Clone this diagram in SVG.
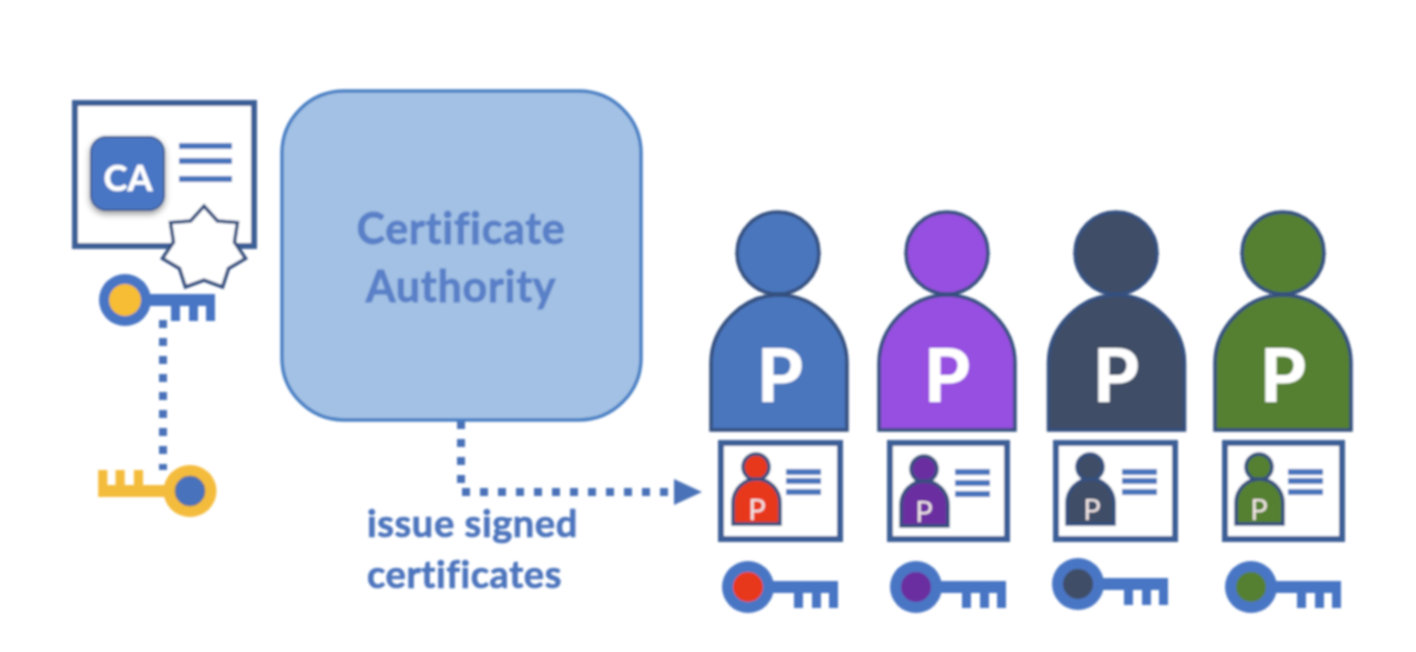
<svg xmlns="http://www.w3.org/2000/svg" width="1416" height="652" viewBox="0 0 1416 652">
<style>
text{font-family:Lato,"Open Sans","Liberation Sans",sans-serif;font-weight:700}
.card{fill:#fff;stroke:#3d5e97;stroke-width:6}
.ln{fill:#4a76bd}
.big{stroke:#34507f;stroke-width:3.500}
.mini{stroke:#34507f;stroke-width:3.500}
.bp{font-size:74px;font-weight:900;fill:#fff;text-anchor:middle}
.mp{font-size:29px;font-weight:400;fill:#f2e6e6;text-anchor:middle}
.lbl{font-size:38px;fill:#4d75bd;stroke:#4d75bd;stroke-width:.7;letter-spacing:.6px}
.ttl{font-size:43px;fill:#5a80c8;stroke:#5a80c8;stroke-width:.8;letter-spacing:.7px;text-anchor:middle}
.dot{fill:none;stroke:#4a72b8;stroke-width:8;stroke-dasharray:8 10}
</style>
<defs>
<filter id="soft" x="0" y="0" width="1416" height="652" filterUnits="userSpaceOnUse"><feGaussianBlur stdDeviation="1.1"/></filter>
<filter id="shadow" x="-20%" y="-20%" width="140%" height="150%"><feDropShadow dx="0" dy="3" stdDeviation="3" flood-color="#000" flood-opacity="0.4"/></filter>
<marker id="arrow" markerUnits="userSpaceOnUse" markerWidth="30" markerHeight="28" refX="0" refY="13" orient="auto"><path d="M1 0L29 13L1 26Z" fill="#4a72b8"/></marker>
<g id="key"><circle r="26"/><path d="M20-6H90V21H81V6H73V21H64V6H55V21H46V6H20Z"/></g>
<path id="bigbody" d="M0 135V68C0 32 32 0 68 0C104 0 136 32 136 68V135Z"/>
<path id="minibody" d="M0 45V24C0 10 11 0 23.500 0C36 0 47 10 47 24V45Z"/>
</defs>
<rect width="1416" height="652" fill="#fff"/>
<g filter="url(#soft)">
<g id="connectors">
<path class="dot" d="M163 320V470"/>
<path class="dot" d="M461 421V492H673" marker-end="url(#arrow)"/>
</g>
<g id="ca-certificate">
<rect class="card" x="75" y="103" width="179" height="143"/>
<rect x="91" y="137" width="73" height="73" rx="15" fill="#4a76c4" stroke="#3d5e97" stroke-width="2" filter="url(#shadow)"/>
<text x="128" y="191" font-size="36" font-weight="900" fill="#fff" stroke="#fff" stroke-width=".6" text-anchor="middle">CA</text>
<path class="ln" d="M179 143h53v6h-53zM179 158h53v6h-53zM179 176h53v6h-53z"/>
<path d="M204 206L217.500 221L237.500 222.500L234.500 242L245.500 258.500L228.500 268.500L222.500 287L204 280L185.500 287L179.500 268.500L162.500 258.500L173.500 242L170.500 222.500L190.500 221Z" fill="#fff" stroke="#34507f" stroke-width="3.500"/>
</g>
<g id="ca-private-key">
<use href="#key" x="125" y="300" fill="#4a76c4"/>
<circle cx="125" cy="300" r="16" fill="#f6bd36"/>
</g>
<g id="ca-public-key">
<use href="#key" transform="translate(190 491) scale(-1.020 -1)" fill="#f4bc3c"/>
<circle cx="190" cy="491" r="15" fill="#4a72bd" stroke="#7a7a60" stroke-width="1"/>
</g>
<g id="certificate-authority">
<rect x="282" y="91" width="359" height="329" rx="62" fill="#a3c1e4" stroke="#4a80c4" stroke-width="3.500"/>
<text class="ttl" x="461" y="244">Certificate</text>
<text class="ttl" x="461" y="302">Authority</text>
</g>
<g id="label-issue">
<text class="lbl" x="367" y="537">issue signed</text>
<text class="lbl" x="367" y="588">certificates</text>
</g>
<g id="person-1">
<circle class="big" cx="778" cy="253" r="41" fill="#4a76bd"/>
<use class="big" href="#bigbody" x="711" y="295" fill="#4a76bd"/>
<text class="bp" x="780" y="402">P</text>
<rect class="card" x="721" y="443" width="119" height="96"/>
<circle class="mini" cx="756" cy="467" r="13" fill="#e8391f"/>
<use class="mini" href="#minibody" x="733" y="479" fill="#e8391f"/>
<text class="mp" x="757" y="520">P</text>
<path class="ln" d="M786 469h35v6h-35zM786 478h35v6h-35zM786 489h35v6h-35z"/>
<use href="#key" x="748" y="587" fill="#4a76c4"/>
<circle cx="748" cy="587" r="15" fill="#e8391f"/>
</g>
<g id="person-2">
<circle class="big" cx="947" cy="253" r="41" fill="#964fe0"/>
<use class="big" href="#bigbody" x="879" y="295" fill="#964fe0"/>
<text class="bp" x="947" y="402">P</text>
<rect class="card" x="890" y="443" width="117" height="96"/>
<circle class="mini" cx="924" cy="469" r="13" fill="#6a2fa0"/>
<use class="mini" href="#minibody" x="901" y="481" fill="#6a2fa0"/>
<text class="mp" x="924" y="522">P</text>
<path class="ln" d="M955 469h35v6h-35zM955 480h35v6h-35zM955 491h35v6h-35z"/>
<use href="#key" x="916" y="587" fill="#4a76c4"/>
<circle cx="916" cy="587" r="15" fill="#6a2fa0"/>
</g>
<g id="person-3">
<circle class="big" cx="1116" cy="253" r="41" fill="#3f4e66"/>
<use class="big" href="#bigbody" x="1048.500" y="295" fill="#3f4e66"/>
<text class="bp" x="1116" y="402">P</text>
<rect class="card" x="1056" y="443" width="119" height="96"/>
<circle class="mini" cx="1090" cy="467" r="13" fill="#3f4e66"/>
<use class="mini" href="#minibody" x="1067" y="479" fill="#3f4e66"/>
<text class="mp" x="1092" y="520">P</text>
<path class="ln" d="M1122 469h35v6h-35zM1122 478h35v6h-35zM1122 489h35v6h-35z"/>
<use href="#key" x="1078" y="584" fill="#4a76c4"/>
<circle cx="1078" cy="584" r="15" fill="#3f4e66"/>
</g>
<g id="person-4">
<circle class="big" cx="1283" cy="253" r="41" fill="#558030"/>
<use class="big" href="#bigbody" x="1215" y="295" fill="#558030"/>
<text class="bp" x="1283" y="402">P</text>
<rect class="card" x="1225" y="443" width="117" height="96"/>
<circle class="mini" cx="1259" cy="467" r="13" fill="#558030"/>
<use class="mini" href="#minibody" x="1236" y="479" fill="#558030"/>
<text class="mp" x="1259" y="520">P</text>
<path class="ln" d="M1288 469h35v6h-35zM1288 478h35v6h-35zM1288 489h35v6h-35z"/>
<use href="#key" x="1251" y="587" fill="#4a76c4"/>
<circle cx="1251" cy="587" r="15" fill="#558030"/>
</g>
</g>
</svg>
